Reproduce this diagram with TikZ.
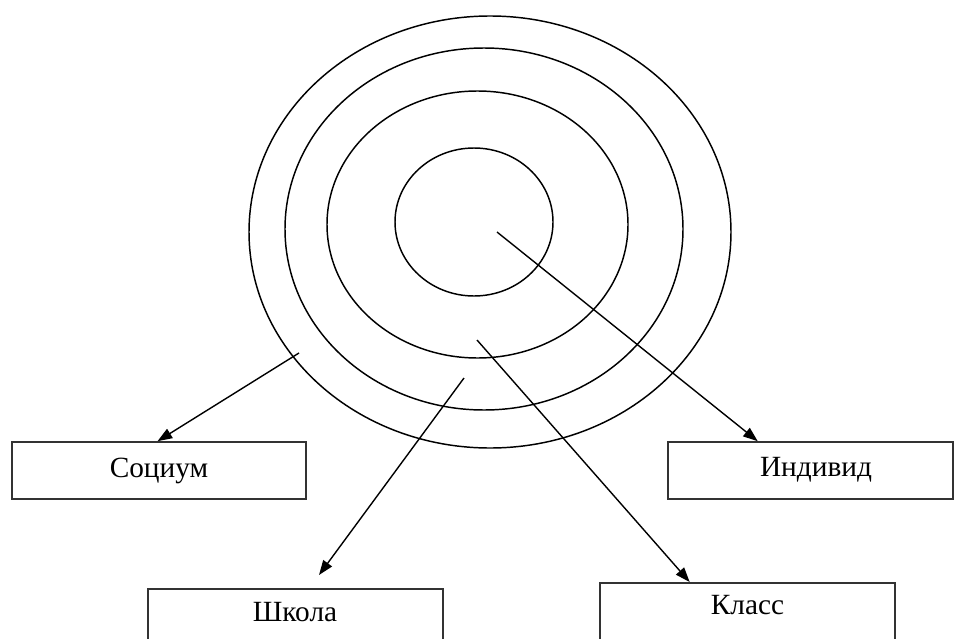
\documentclass[tikz,border=0pt]{standalone}
\usepackage{fontspec}
\setmainfont{Liberation Serif}
\usetikzlibrary{shapes.geometric,arrows.meta,calc}
\begin{document}
\begin{tikzpicture}[x=0.75pt,y=-0.75pt,
  ring/.style={draw=black,line width=1.1pt,ellipse,inner sep=0pt},
  box/.style={draw=black!80,line width=1.2pt,rectangle,inner sep=0pt,font=\fontsize{22}{26}\selectfont},
  lbl/.style={font=\fontsize{22}{26}\selectfont,inner sep=0pt},
  arr/.style={line width=1.05pt,-{Triangle[length=11pt,width=8pt]}}]
\useasboundingbox (0,0) rectangle (954,639);
\clip (0,0) rectangle (954,639);
% rings
\node[ring,minimum width=361.5pt,minimum height=324pt] (r1) at (490,232) {};
\node[ring,minimum width=298.5pt,minimum height=271.5pt] (r2) at (484,229) {};
\node[ring,minimum width=225.75pt,minimum height=200.25pt] (r3) at (477.5,224.5) {};
\node[ring,minimum width=118.5pt,minimum height=111pt] (r4) at (474,222) {};
% boxes
\node[box,minimum width=220.5pt,minimum height=42.75pt] (soc) at (159,470.5) {Социум};
\node[box,minimum width=213.75pt,minimum height=42.75pt] (ind) at (810.5,470.5) {};
\node[lbl] (indt) at (816,470) {Индивид};
\node[box,anchor=north,minimum width=221.25pt,minimum height=60pt] (shk) at (295.5,588) {};
\node[lbl] (shkt) at (295,612) {Школа};
\node[box,anchor=north,minimum width=221.25pt,minimum height=60pt] (kls) at (747.5,582) {};
\node[lbl] (klst) at (747.5,605) {Класс};
% arrow starts
\coordinate (s1) at (299,353);
\coordinate (s2) at (464,378);
\coordinate (s3) at (477,340);
\coordinate (s4) at (497,232);
\coordinate (e2) at (319,575);
% arrows
\draw[arr] (s1) -- ($(soc.north west)!0.495!(soc.north east)$);
\draw[arr] (s2) -- (e2);
\draw[arr] (s3) -- ($(kls.north west)!0.305!(kls.north east)$);
\draw[arr] (s4) -- ($(ind.north west)!0.316!(ind.north east)$);
\end{tikzpicture}
\end{document}
